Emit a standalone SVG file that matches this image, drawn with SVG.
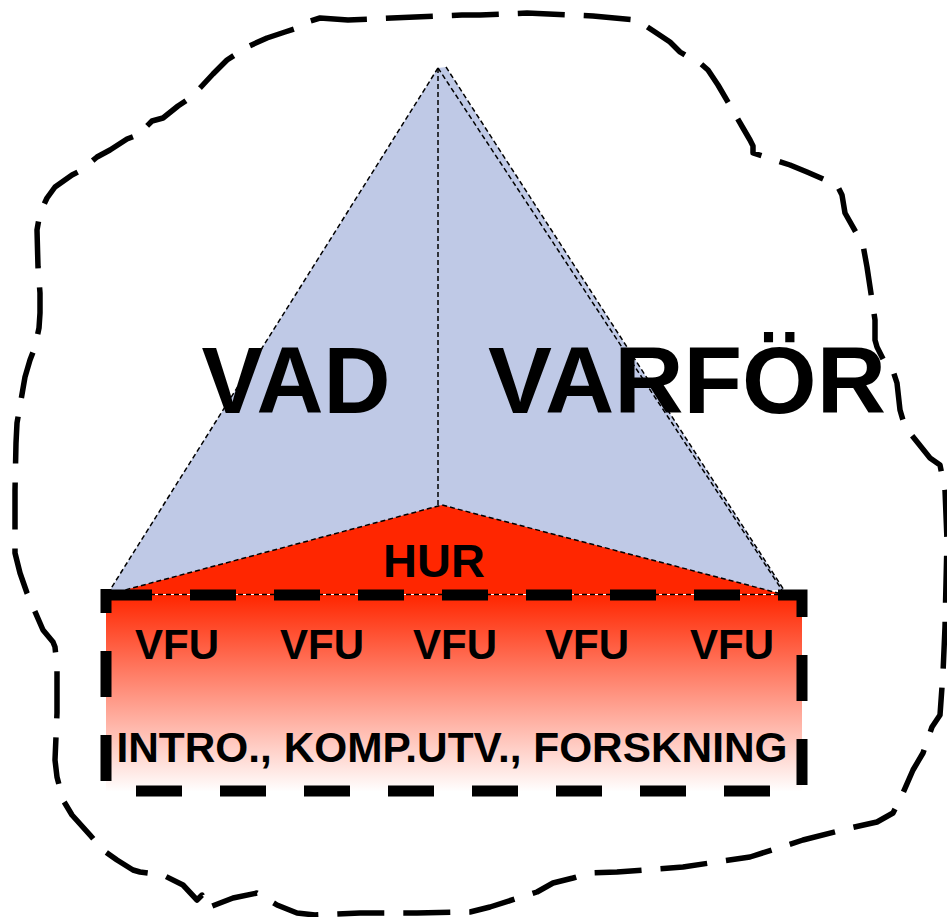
<svg xmlns="http://www.w3.org/2000/svg" width="947" height="917" viewBox="0 0 947 917">
<defs>
<linearGradient id="redfade" x1="0" y1="595" x2="0" y2="792" gradientUnits="userSpaceOnUse">
<stop offset="0" stop-color="#FF2600"/>
<stop offset="1" stop-color="#FFFFFF"/>
</linearGradient>
<style>
.thin{fill:none;stroke:#000;stroke-width:1.5;stroke-dasharray:5 3}
.big{font-family:"Liberation Sans",Arial,sans-serif;font-weight:bold;fill:#000}
.thick{fill:none;stroke:#000;stroke-width:11;stroke-dasharray:46 38}
</style>
</defs>
<rect width="947" height="917" fill="#fff"/>
<g id="outline">
<path fill="none" stroke="#000" stroke-width="5.5" stroke-dasharray="47 19" stroke-linejoin="round" d="M320,18 L348,20 L415,17 L462,15 L480,15 L527,13 L593,16 L637,20 L655,32 L670,42 L680,52 L690,58 L700,63 L708,70 L718,85 L743,128 L750,140 L753,146 L753,153 L790,165 L807,172 L837,185 L842,195 L845,213 L863,245 L867,267 L872,300 L875,320 L875,340 L877,347 L885,363 L892,368 L897,383 L900,410 L905,427 L918,443 L930,458 L940,465 L945,490 L947,540 L945,627 L943,673 L940,715 L932,727 L923,753 L913,770 L903,793 L893,813 L877,822 L850,828 L803,840 L750,857 L683,867 L617,872 L590,873 L573,878 L553,883 L537,892 L490,907 L470,912 L417,913 L360,913 L315,915 L297,913 L277,905 L257,893 L233,898 L207,908 L202,895 L197,900 L183,885 L163,875 L140,872 L133,870 L117,860 L103,850 L90,835 L72,815 L63,800 L57,777 L55,760 L57,713 L57,667 L55,647 L53,642 L43,630 L33,607 L27,593 L20,573 L15,553 L15,490 L16,443 L17,423 L21,400 L25,377 L30,360 L35,347 L39,328 L40,313 L40,293 L38,267 L37,230 L40,213 L47,198 L55,187 L72,175 L80,171 L85,167 L97,157 L110,150 L127,139 L143,133 L147,126 L152,121 L163,118 L178,106 L190,98 L200,88 L213,74 L227,60 L247,47 L267,38 L285,32 L300,27 L310,21 Z"/>
</g>
<g id="pyramid">
<polygon points="438,68 446,67 784,590 110,590" fill="#BFC9E6"/>
<line class="thin" x1="438" y1="68" x2="110" y2="590"/>
<line class="thin" x1="438" y1="68" x2="782" y2="590"/>
<line class="thin" x1="446" y1="67" x2="784" y2="590"/>
<line class="thin" x1="438" y1="68" x2="438" y2="505" stroke-dasharray="6 4"/>
</g>
<g id="hur-face">
<polygon points="110,594 442,505 782,594" fill="#FF2600"/>
<polyline class="thin" points="110,594 442,505 782,594"/>
</g>
<g id="vfu-box">
<rect x="106" y="595" width="696" height="196" fill="url(#redfade)"/>
<line class="thin" x1="110" y1="594.5" x2="782" y2="594.5"/>
<path class="thick" d="M106,595 H802 V791 H106"/>
<line class="thick" x1="106" y1="589" x2="106" y2="791" stroke-dashoffset="22"/>
</g>
<g id="labels">
<text class="big" x="296" y="413" font-size="95" text-anchor="middle" textLength="189" lengthAdjust="spacingAndGlyphs">VAD</text>
<text class="big" x="687" y="413" font-size="95" text-anchor="middle" textLength="398" lengthAdjust="spacingAndGlyphs">VARFÖR</text>
<text class="big" x="434" y="577" font-size="47" text-anchor="middle">HUR</text>
<text class="big" x="177" y="659" font-size="42" text-anchor="middle">VFU</text>
<text class="big" x="322" y="659" font-size="42" text-anchor="middle">VFU</text>
<text class="big" x="455" y="659" font-size="42" text-anchor="middle">VFU</text>
<text class="big" x="587" y="659" font-size="42" text-anchor="middle">VFU</text>
<text class="big" x="732" y="659" font-size="42" text-anchor="middle">VFU</text>
<text class="big" x="452" y="762" font-size="43" text-anchor="middle" textLength="671" lengthAdjust="spacingAndGlyphs">INTRO., KOMP.UTV., FORSKNING</text>
</g>
</svg>
